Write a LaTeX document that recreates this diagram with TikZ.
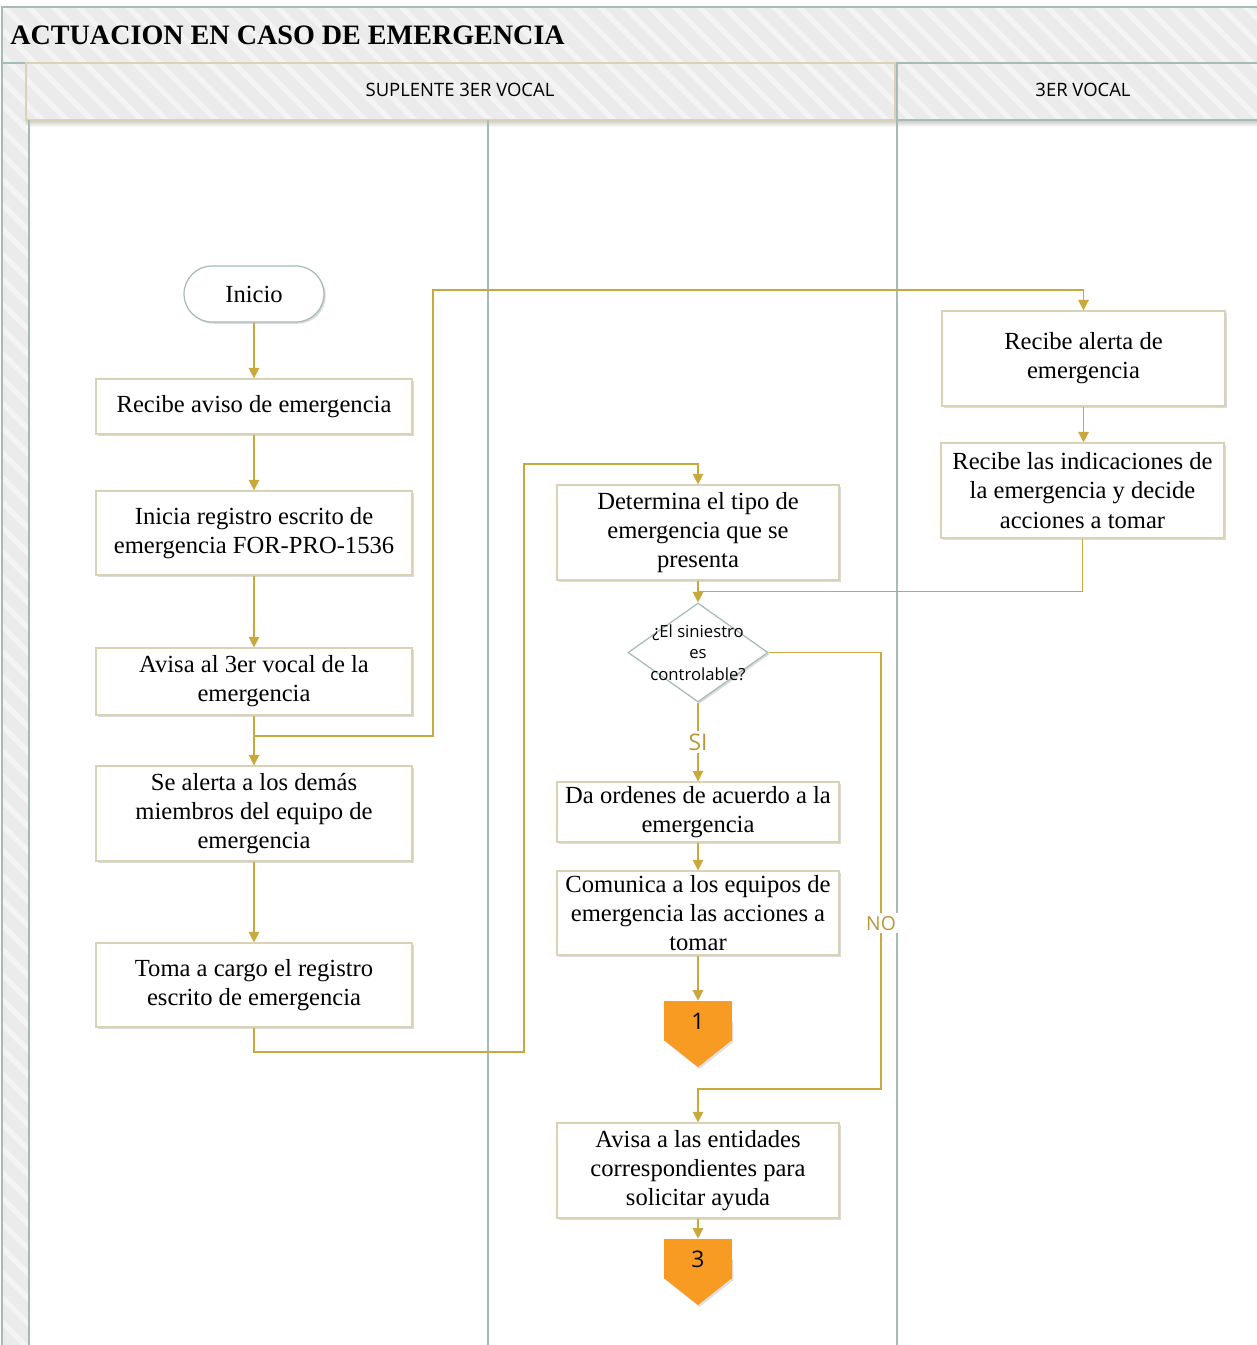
\documentclass[tikz,border=0pt]{standalone}
\usepackage{fontspec}
\setmainfont{Liberation Serif}
\newfontfamily\lanefont{Open Sans}
\usetikzlibrary{positioning,shapes.geometric,arrows.meta,shadows,patterns.meta,calc}
\definecolor{lane}{HTML}{A3BCB4}
\definecolor{hdr}{HTML}{EBEBEB}
\definecolor{rim}{HTML}{D9D2B4}
\definecolor{lnk}{HTML}{C9A83C}
\definecolor{tag}{HTML}{B8973A}
\definecolor{pg}{HTML}{F79B23}
\tikzset{
  band/.style={preaction={fill=hdr}, pattern={Lines[angle=-45, distance=10pt, line width=3pt]},
    pattern color=white!45!hdr, draw=lane, line width=0.9pt},
  hshd/.style={top color=black!22, bottom color=white},
  shd/.style={drop shadow={shadow xshift=1pt, shadow yshift=-1pt, fill=black, opacity=0.14}},
  act/.style={draw=rim, fill=white, line width=0.7pt, shd, minimum width=63.2mm, align=center,
    inner sep=2pt, font=\fontsize{14}{16.6}\selectfont},
  cact/.style={act, minimum width=56.4mm},
  term/.style={draw=lane, fill=white, line width=0.7pt, shd, rounded corners=5.6mm, minimum width=28mm,
    minimum height=11.2mm, font=\fontsize{14}{16.6}\selectfont},
  ask/.style={diamond, draw=lane, fill=white, line width=0.7pt, shd, minimum width=28mm, minimum height=19.8mm,
    inner sep=0pt},
  asktxt/.style={align=center, font=\lanefont\fontsize{9.5}{12.2}\selectfont},
  offpg/.style={fill=pg, minimum width=13.6mm, minimum height=8mm, inner sep=0pt,
    font=\lanefont\fontsize{13}{15}\selectfont},
  tip/.style={fill=pg, drop shadow={shadow xshift=0.8pt, shadow yshift=-1.2pt, fill=black, opacity=0.12}},
  arr/.style={draw=lnk, line width=0.8pt, -{Triangle[width=6pt, length=6pt]}},
  ln/.style={draw=lnk, line width=0.8pt},
  ans/.style={fill=white, text=tag, inner sep=1.5pt, font=\lanefont\fontsize{13}{15}\selectfont}}

\begin{document}
\begin{tikzpicture}[x=0.02cm, y=-0.02cm]
\useasboundingbox (0,0) rectangle (1257,1345);
% pool, title band and lanes
\fill[white] (0,0) rectangle (1257,1345);
\path[band] (2,7) rectangle (1262,63);
\path[band] (2,63) rectangle (29,1350);
\shade[hshd] (26,120) rectangle (1262,127);
\path[band, draw=rim] (26,63) rectangle (895,120);
\path[band] (897,63) rectangle (1262,120);
\draw[lane, line width=1pt] (29,120) -- (29,1350);
\draw[lane, line width=1pt] (488,120) -- (488,1350);
\draw[lane, line width=1pt] (897,120) -- (897,1350);
\node[anchor=base west, inner sep=0pt, font=\bfseries\fontsize{16}{18}\selectfont] (ttl) at (10,45) {ACTUACION EN CASO DE EMERGENCIA};
\node[font=\lanefont\fontsize{10.5}{12}\selectfont] (hsup) at (460,90) {SUPLENTE 3ER VOCAL};
\node[font=\lanefont\fontsize{10.5}{12}\selectfont] (hvoc) at (1083,90) {3ER VOCAL};

% suplente, first column
\node[term] (ini) at (254,294) {Inicio};
\node[act, minimum height=11mm] (r1) at (254,406.5) {Recibe aviso de emergencia};
\node[act, minimum height=16.8mm] (r2) at (254,533) {Inicia registro escrito de\\emergencia FOR-PRO-1536};
\node[act, minimum height=13.4mm] (r3) at (254,681.5) {Avisa al 3er vocal de la\\emergencia};
\node[act, minimum height=19mm] (r4) at (254,813.5) {Se alerta a los demás\\miembros del equipo de\\emergencia};
\node[act, minimum height=16.8mm] (r5) at (254,985) {Toma a cargo el registro\\escrito de emergencia};

% suplente, second column
\node[cact, minimum height=19mm] (d1) at (698,532.5) {Determina el tipo de\\emergencia que se\\presenta};
\node[ask] (q) at (698,652.5) {};
\node[asktxt] (qt) at (q) {¿El siniestro\\es\\controlable?};
\node[cact, minimum height=12mm] (d2) at (698,812) {Da ordenes de acuerdo a la\\emergencia};
\node[cact, minimum height=16.8mm] (d3) at (698,913) {Comunica a los equipos de\\emergencia las acciones a\\tomar};
\node[cact, minimum height=19mm] (d4) at (698,1170.5) {Avisa a las entidades\\correspondientes para\\solicitar ayuda};
% off-page connectors: box with a point below it
\fill[tip] (664,1020) -- (732,1020) -- (732,1040) -- (698,1067) -- (664,1040) -- cycle;
\node[offpg] (c1) at (698,1021) {1};
\fill[tip] (664,1258) -- (732,1258) -- (732,1278) -- (698,1305) -- (664,1278) -- cycle;
\node[offpg] (c3) at (698,1259) {3};

% 3er vocal
\node[cact, minimum width=56.6mm, minimum height=19mm] (v1) at (1083.5,358.5) {Recibe alerta de\\emergencia};
\node[cact, minimum width=56.6mm, minimum height=19mm] (v2) at (1082.5,490.5) {Recibe las indicaciones de\\la emergencia y decide\\acciones a tomar};

% bends of the connectors
\coordinate (j1) at (254,736);
\coordinate (t1) at (433,290);
\coordinate (t2) at (524,1052);
\coordinate (t3) at (524,464);
\coordinate (t4) at (881,1089);
\coordinate (j2) at ($(d1.south)!0.5!(q.north)$);

\draw[arr] (ini) -- (r1);
\draw[arr] (r1) -- (r2);
\draw[arr] (r2) -- (r3);
\draw[arr] (r3) -- (r4);
\draw[arr] (r4) -- (r5);
\draw[arr] (j1) -| (t1) -| (v1.north);
\draw[arr] (v1.south) -- (v1.south |- v2.north);
\draw[ln] (v2.south) |- (j2);
\draw[arr] (r5.south) |- (t2) -- (t3) -| (d1.north);
\draw[arr] (d1) -- (q);
\draw[arr] (q.south) -- node[ans] (si) {SI} (d2.north);
\draw[arr] (d2) -- (d3);
\draw[arr] (d3) -- (c1);
\draw[arr] (q.east) -| node[ans, pos=0.81, font=\lanefont\fontsize{11}{13}\selectfont] (no) {NO} (t4) -| (d4.north);
\draw[arr] (d4) -- (c3);
\end{tikzpicture}
\end{document}
